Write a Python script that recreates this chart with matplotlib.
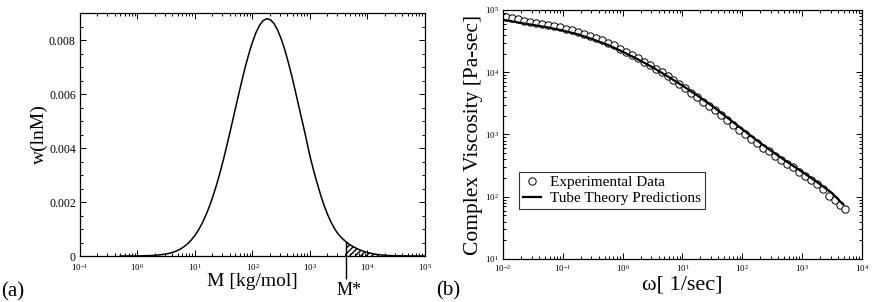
import numpy as np
import matplotlib
matplotlib.use('Agg')
import matplotlib.pyplot as plt
from matplotlib.ticker import LogLocator, MultipleLocator, FixedLocator

plt.rcParams['font.family'] = ['Liberation Serif', 'DejaVu Serif']
plt.rcParams['mathtext.fontset'] = 'stix'
plt.rcParams['hatch.linewidth'] = 1.0

# (a) molecular weight distribution
log10_M = [-0.30, 0.00, 0.25, 0.375, 0.50, 0.5625, 0.625, 0.6875, 0.75, 0.8125,
           0.875, 0.9375, 1.00, 1.0625, 1.125, 1.1875, 1.25, 1.3125, 1.375, 1.4375,
           1.50, 1.5625, 1.625, 1.6875, 1.75, 1.8125, 1.875, 1.9375, 2.00, 2.0625,
           2.125, 2.1875, 2.25, 2.3125, 2.375, 2.4375, 2.50, 2.5625, 2.625, 2.6875,
           2.75, 2.8125, 2.875, 2.9375, 3.00, 3.0625, 3.125, 3.1875, 3.25, 3.3125,
           3.375, 3.4375, 3.50, 3.5625, 3.625, 3.6875, 3.75, 3.8125, 3.875, 3.9375,
           4.00, 4.125, 4.25, 4.375, 4.50, 4.75, 5.00]
w_lnM = [0.0, 0.000003, 0.000018, 0.00004, 0.000075, 0.000104, 0.000144, 0.000196,
         0.000263, 0.000350, 0.000459, 0.000596, 0.000764, 0.000968, 0.00121, 0.00150,
         0.00183, 0.00221, 0.00263, 0.00310, 0.00361, 0.00416, 0.00473, 0.00531,
         0.00589, 0.00646, 0.00700, 0.00749, 0.00792, 0.00828, 0.00855, 0.00872,
         0.00879, 0.00875, 0.00861, 0.00837, 0.00804, 0.00764, 0.00716, 0.00664,
         0.00607, 0.00549, 0.00491, 0.00432, 0.00370, 0.00318, 0.00270, 0.00225,
         0.00185, 0.00151, 0.00122, 0.00098, 0.00079, 0.00065, 0.00053, 0.00043,
         0.00035, 0.00028, 0.00022, 0.00017, 0.00013, 0.00007, 0.000037, 0.000018,
         0.000008, 0.000002, 0.0]
M_star_log = 3.625

# (b) complex viscosity
log_omega_exp = [-1.95, -1.85, -1.75, -1.65, -1.55, -1.45, -1.35, -1.25, -1.15, -1.05,
                 -0.95, -0.85, -0.75, -0.65, -0.55, -0.45, -0.35, -0.25, -0.15, -0.05,
                 0.05, 0.15, 0.25, 0.35, 0.45, 0.55, 0.65, 0.75, 0.85, 0.95,
                 1.05, 1.15, 1.25, 1.35, 1.45, 1.55, 1.65, 1.75, 1.85, 1.95,
                 2.05, 2.15, 2.25, 2.35, 2.45, 2.55, 2.65, 2.75, 2.85, 2.95,
                 3.05, 3.15, 3.25, 3.35, 3.45, 3.55, 3.63, 3.71]
log_eta_exp = [4.88, 4.865, 4.85, 4.83, 4.81, 4.79, 4.775, 4.76, 4.74, 4.72,
               4.70, 4.675, 4.65, 4.62, 4.585, 4.55, 4.51, 4.47, 4.43, 4.38,
               4.33, 4.28, 4.23, 4.17, 4.115, 4.06, 4.00, 3.94, 3.88, 3.81,
               3.74, 3.67, 3.60, 3.53, 3.46, 3.39, 3.31, 3.23, 3.15, 3.07,
               3.01, 2.93, 2.86, 2.79, 2.73, 2.66, 2.59, 2.53, 2.48, 2.40,
               2.33, 2.27, 2.21, 2.12, 2.02, 1.95, 1.87, 1.80]
log_omega_th = [-1.98, -1.75, -1.5, -1.25, -1.0, -0.75, -0.5, -0.25, 0.0, 0.25, 0.5,
                0.75, 1.0, 1.25, 1.5, 1.75, 2.0, 2.25, 2.5, 2.75, 3.0, 3.25, 3.5, 3.68]
log_eta_th = [4.84, 4.80, 4.76, 4.72, 4.67, 4.61, 4.53, 4.44, 4.33, 4.21, 4.08,
              3.935, 3.785, 3.625, 3.455, 3.27, 3.085, 2.90, 2.725, 2.56, 2.40,
              2.235, 2.06, 1.88]

M = 10 ** np.array(log10_M)
w = np.array(w_lnM)
M_star = 10 ** M_star_log

fig = plt.figure(figsize=(8.72, 3.02), dpi=100)
ax1 = fig.add_axes([0.0917, 0.1523, 0.3956, 0.8046])
ax2 = fig.add_axes([0.5768, 0.1424, 0.4117, 0.8245])


def style_axis(ax):
    for s in ax.spines.values():
        s.set_linewidth(0.9)
    ax.tick_params(which='both', direction='in', top=True, right=True,
                   labelsize=6.5, pad=3, width=0.7)
    ax.tick_params(which='major', length=4.5)
    ax.tick_params(which='minor', length=2.3)


# panel (a)
ax1.plot(M, w, color='black', lw=1.1)
tail = (np.array(log10_M) >= M_star_log) & (np.array(log10_M) <= 4.25)
ax1.fill_between(M[tail], 0, w[tail], facecolor='white', edgecolor='black',
                 hatch='//////', linewidth=0)
ax1.vlines(M_star, -0.00085, 0.00053, color='black', lw=1.0, clip_on=False)
ax1.text(M_star * 1.12, -0.00098, 'M*', ha='center', va='top', fontsize=13)
ax1.set_xscale('log')
ax1.set_xlim(1e-1, 1e5)
ax1.set_ylim(0, 0.009)
ax1.xaxis.set_major_locator(LogLocator(base=10, numticks=10))
ax1.xaxis.set_minor_locator(LogLocator(base=10, subs=np.arange(2, 10), numticks=20))
ax1.yaxis.set_major_locator(FixedLocator([0, 0.002, 0.004, 0.006, 0.008]))
ax1.yaxis.set_minor_locator(MultipleLocator(0.0005))
ax1.set_yticklabels(['0', '0.002', '0.004', '0.006', '0.008'])
style_axis(ax1)
ax1.tick_params(axis='y', labelsize=8.5)
ax1.tick_params(axis='x', pad=4.5)
ax1.set_xlabel('M [kg/mol]', fontsize=14, labelpad=0)
ax1.set_ylabel('w(lnM)', fontsize=14, labelpad=1)
fig.text(0.001, 0.018, '(a)', fontsize=15)

# panel (b)
ax2.plot(10 ** np.array(log_omega_exp), 10 ** np.array(log_eta_exp), 'o',
         mfc='white', mec='black', ms=5.3, mew=0.7, label='Experimental Data')
ax2.plot(10 ** np.array(log_omega_th), 10 ** np.array(log_eta_th), '-',
         color='black', lw=1.6, label='Tube Theory Predictions')
ax2.set_xscale('log')
ax2.set_yscale('log')
ax2.set_xlim(1e-2, 1e4)
ax2.set_ylim(1e1, 1e5)
ax2.xaxis.set_major_locator(LogLocator(base=10, numticks=10))
ax2.xaxis.set_minor_locator(LogLocator(base=10, subs=np.arange(2, 10), numticks=20))
ax2.yaxis.set_major_locator(LogLocator(base=10, numticks=10))
ax2.yaxis.set_minor_locator(LogLocator(base=10, subs=np.arange(2, 10), numticks=20))
style_axis(ax2)
ax2.set_xlabel('ω[ 1/sec]', fontsize=16, labelpad=1)
ax2.set_ylabel('Complex Viscosity [Pa-sec]', fontsize=15.5, labelpad=1.5)
leg = ax2.legend(loc='lower left', bbox_to_anchor=(0.045, 0.2), fontsize=11,
                 frameon=True, fancybox=False, edgecolor='black',
                 handlelength=1.2, handletextpad=0.6, borderpad=0.25,
                 labelspacing=0.15, borderaxespad=0)
leg.get_frame().set_linewidth(0.8)
fig.text(0.5, 0.022, '(b)', fontsize=15)

fig.savefig('out.png', dpi=100)
